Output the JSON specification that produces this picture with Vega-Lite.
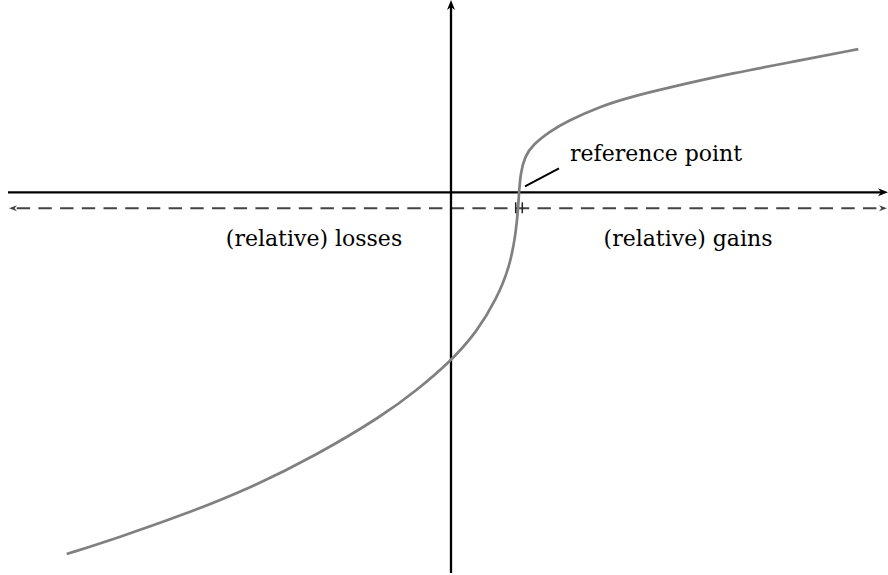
{
  "$schema": "https://vega.github.io/schema/vega-lite/v6.json",
  "width": 888,
  "height": 575,
  "padding": 0,
  "autosize": {"type": "fit", "contains": "padding"},
  "background": "white",
  "config": {"view": {"stroke": null}, "text": {"font": "DejaVu Serif"}},
  "datasets": {
    "curve": [
      {"x": -3.843, "y": -3.63}, {"x": -3.343, "y": -3.47}, {"x": -2.677, "y": -3.237},
      {"x": -2.01, "y": -2.97}, {"x": -1.343, "y": -2.637}, {"x": -0.677, "y": -2.237},
      {"x": -0.343, "y": -1.987}, {"x": -0.01, "y": -1.703}, {"x": 0.257, "y": -1.403},
      {"x": 0.457, "y": -1.07}, {"x": 0.59, "y": -0.737}, {"x": 0.65, "y": -0.403},
      {"x": 0.673, "y": -0.137}, {"x": 0.68, "y": 0.0}, {"x": 0.697, "y": 0.20},
      {"x": 0.74, "y": 0.363}, {"x": 0.82, "y": 0.48}, {"x": 0.99, "y": 0.613},
      {"x": 1.16, "y": 0.713}, {"x": 1.49, "y": 0.863}, {"x": 1.82, "y": 0.963},
      {"x": 2.16, "y": 1.047}, {"x": 2.82, "y": 1.197}, {"x": 3.49, "y": 1.323},
      {"x": 4.073, "y": 1.437}
    ],
    "axes": [
      {"x": -4.43, "y": 0, "x2": 4.30, "y2": 0},
      {"x": 0, "y": -3.82, "x2": 0, "y2": 1.86}
    ],
    "dashed": [{"x": -4.40, "y": -0.16, "x2": 4.31, "y2": -0.16}],
    "refticks": [
      {"x": 0.647, "y": -0.10, "x2": 0.647, "y2": -0.21},
      {"x": 0.713, "y": -0.10, "x2": 0.713, "y2": -0.21}
    ],
    "leader": [{"x": 0.74, "y": 0.06, "x2": 1.08, "y2": 0.24}],
    "arrowRight": [{"x": 4.37, "y": 0}],
    "arrowUp": [{"x": 0, "y": 1.93}],
    "dashRight": [{"x": 4.36, "y": -0.16}],
    "dashLeft": [{"x": -4.42, "y": -0.16}],
    "labelsCenter": [
      {"x": -1.37, "y": -0.54, "label": "(relative) losses"},
      {"x": 2.37, "y": -0.54, "label": "(relative) gains"}
    ],
    "labelsLeft": [{"x": 1.19, "y": 0.31, "label": "reference point"}]
  },
  "encoding": {
    "x": {"field": "x", "type": "quantitative", "scale": {"domain": [-4.51, 4.37], "nice": false, "zero": false}, "axis": null},
    "y": {"field": "y", "type": "quantitative", "scale": {"domain": [-3.82, 1.93], "nice": false, "zero": false}, "axis": null}
  },
  "layer": [
    {
      "data": {"name": "dashed"},
      "mark": {"type": "rule", "color": "#444444", "strokeWidth": 1.9, "strokeDash": [13.4, 8.3], "strokeDashOffset": 16},
      "encoding": {"x2": {"field": "x2"}, "y2": {"field": "y2"}}
    },
    {
      "data": {"name": "dashRight"},
      "mark": {"type": "point", "shape": "M 0 0 L -2 -0.75 L -1.4 0 L -2 0.75 Z", "filled": true, "color": "#444444", "opacity": 1, "size": 64, "angle": 0},
      "encoding": {}
    },
    {
      "data": {"name": "dashLeft"},
      "mark": {"type": "point", "shape": "M 0 0 L -2 -0.75 L -1.4 0 L -2 0.75 Z", "filled": true, "color": "#444444", "opacity": 1, "size": 64, "angle": 180},
      "encoding": {}
    },
    {
      "data": {"name": "axes"},
      "mark": {"type": "rule", "color": "black", "strokeWidth": 2.3},
      "encoding": {"x2": {"field": "x2"}, "y2": {"field": "y2"}}
    },
    {
      "data": {"name": "arrowRight"},
      "mark": {"type": "point", "shape": "M 0 0 L -2 -0.8 L -1.4 0 L -2 0.8 Z", "filled": true, "color": "black", "opacity": 1, "size": 100, "angle": 0},
      "encoding": {}
    },
    {
      "data": {"name": "arrowUp"},
      "mark": {"type": "point", "shape": "M 0 0 L -2 -0.8 L -1.4 0 L -2 0.8 Z", "filled": true, "color": "black", "opacity": 1, "size": 100, "angle": -90},
      "encoding": {}
    },
    {
      "data": {"name": "curve"},
      "mark": {"type": "line", "color": "#808080", "strokeWidth": 2.7, "interpolate": "basis"},
      "encoding": {}
    },
    {
      "data": {"name": "refticks"},
      "mark": {"type": "rule", "color": "#222222", "strokeWidth": 1.5},
      "encoding": {"x2": {"field": "x2"}, "y2": {"field": "y2"}}
    },
    {
      "data": {"name": "leader"},
      "mark": {"type": "rule", "color": "black", "strokeWidth": 2},
      "encoding": {"x2": {"field": "x2"}, "y2": {"field": "y2"}}
    },
    {
      "data": {"name": "labelsCenter"},
      "mark": {"type": "text", "font": "DejaVu Serif", "fontSize": 22, "align": "center", "baseline": "alphabetic", "color": "black"},
      "encoding": {"text": {"field": "label"}}
    },
    {
      "data": {"name": "labelsLeft"},
      "mark": {"type": "text", "font": "DejaVu Serif", "fontSize": 22, "align": "left", "baseline": "alphabetic", "color": "black"},
      "encoding": {"text": {"field": "label"}}
    }
  ]
}
